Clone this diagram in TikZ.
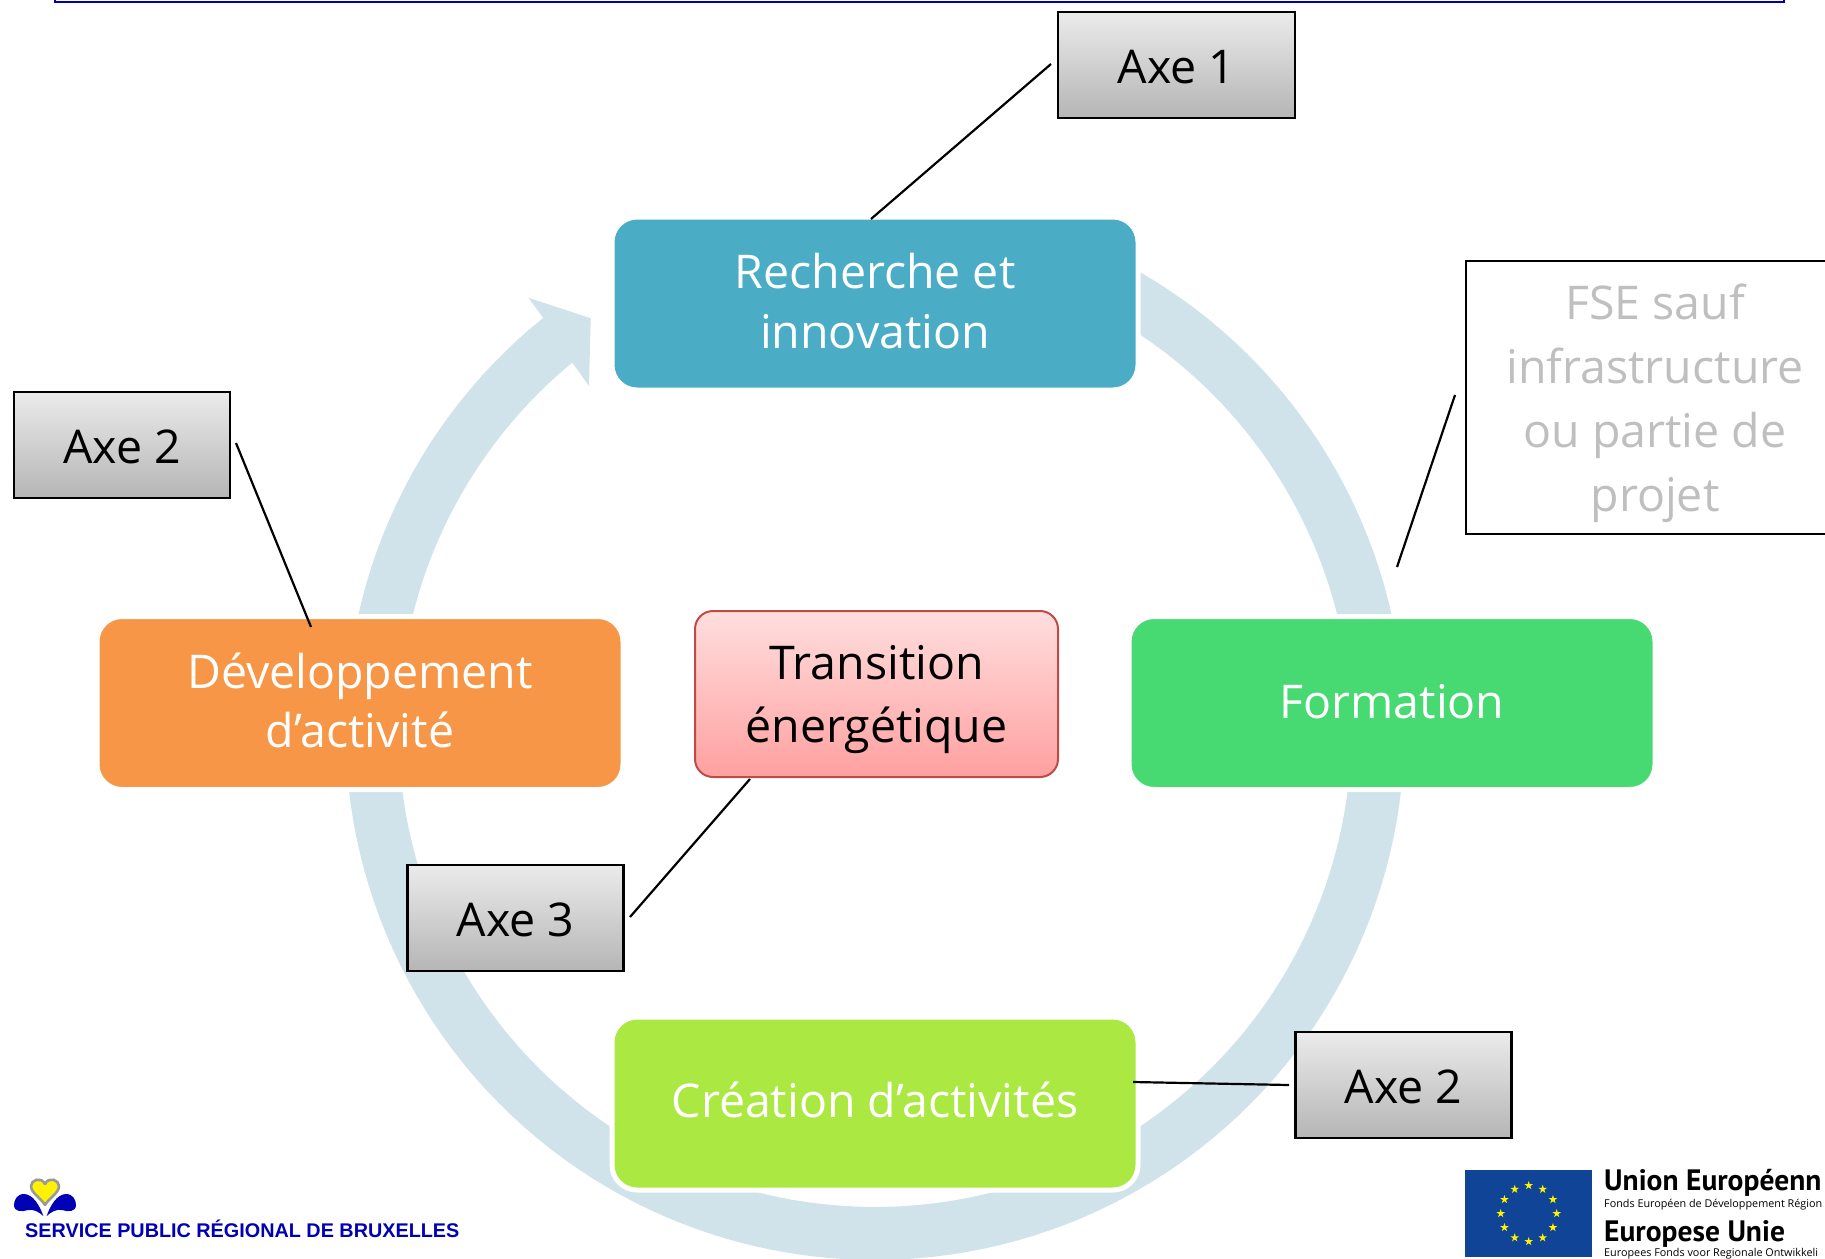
\documentclass[tikz,border=0pt]{standalone}
\usepackage{fontspec}
\setmainfont{Open Sans}
\newfontfamily\logofont{Liberation Sans}
\newfontfamily\eufont{PT Sans}
\newfontfamily\eusmall{Open Sans}
\usetikzlibrary{shapes.geometric,calc}
\definecolor{ringc}{HTML}{D0E2EA}
\definecolor{rechc}{HTML}{4BACC6}
\definecolor{formc}{HTML}{48DA72}
\definecolor{devc}{HTML}{F79646}
\definecolor{creac}{HTML}{ABE942}
\definecolor{greyline}{HTML}{BFBFBF}
\definecolor{logoblue}{HTML}{0000B4}
\definecolor{eublue}{HTML}{0F4496}
\definecolor{redborder}{HTML}{BE4B48}
\definecolor{axetop}{HTML}{EBEBEB}
\definecolor{axebot}{HTML}{B5B5B5}
\definecolor{redtop}{HTML}{FFDEDE}
\definecolor{redbot}{HTML}{FFA0A0}
\newcommand{\lifted}[2]{\raisebox{#1}[\height][\depth]{\begin{tabular}{@{}c@{}}#2\end{tabular}}}
\tikzset{
  x=1pt,y=-1pt,
  cyclebox/.style={draw=white,line width=5pt,rounded corners=25pt,text=white,align=center,
    minimum width=526pt,minimum height=173pt,inner sep=0pt,font=\fontsize{46.5}{59.5}\selectfont},
  axebox/.style={draw=black,line width=2.2pt,top color=axetop,bottom color=axebot,
    text=black,inner sep=0pt,font=\fontsize{46.5}{59}\selectfont},
  link/.style={draw=black,line width=2.2pt},
  eutext/.style={anchor=base west,inner sep=0pt,text=black},
}
\begin{document}
\begin{tikzpicture}
\useasboundingbox (0,0) rectangle (1825,1258);
% top frame
\draw[blue!70!black,line width=2pt] (55,-20) -- (55,2) -- (1784,2) -- (1784,-20);
% ring with arrow head
\fill[ringc]
  plot[domain=62:-231.2,samples=160] ({875+529.5*cos(\x)},{730.5-529.5*sin(\x)})
  -- (528.3,297.7) -- (590.7,318.3) -- (589,386) -- (573.3,364)
  -- plot[domain=-230.5:62,samples=160] ({875+476.5*cos(\x)},{730.5-476.5*sin(\x)})
  -- cycle;
% cycle nodes
\node[cyclebox,fill=rechc] (rech) at (875,303.5) {\lifted{-3pt}{Recherche et\\innovation}};
\node[cyclebox,fill=formc] (form) at (1392,703) {\lifted{-3.7pt}{Formation}};
\node[cyclebox,fill=devc] (dev) at (360,703) {\lifted{-3.3pt}{Développement\\d’activité}};
\node[cyclebox,fill=creac] (crea) at (875,1103.5) {\lifted{-2.3pt}{Création d’activités}};
\node[draw=redborder,line width=2pt,rounded corners=18pt,top color=redtop,bottom color=redbot,
  text=black,align=center,minimum width=363pt,minimum height=166pt,inner sep=0pt,
  font=\fontsize{46.5}{63}\selectfont] (trans) at (876.5,694) {\lifted{-4.8pt}{Transition\\énergétique}};
% axis boxes
\node[axebox,minimum width=237pt,minimum height=106pt] (axeA) at (1176.5,65) {\lifted{-6.7pt}{Axe 1}};
\node[axebox,minimum width=216pt,minimum height=106pt] (axeL) at (122,445) {\lifted{-6.7pt}{Axe 2}};
\node[axebox,minimum width=216pt,minimum height=106pt] (axeC) at (515.5,918) {\lifted{-6.7pt}{Axe 3}};
\node[axebox,minimum width=216pt,minimum height=106pt] (axeB) at (1403.5,1085) {\lifted{-6.7pt}{Axe 2}};
\node[draw=black,line width=2.2pt,text=greyline,align=center,inner sep=0pt,
  minimum width=378pt,minimum height=273pt,font=\fontsize{46.5}{64}\selectfont]
  (fse) at (1655,397.5) {\lifted{-5pt}{FSE sauf\\infrastructure\\ou partie de\\projet}};
% connector ends
\coordinate (axeAStart) at (1051,64);
\coordinate (rechEnd) at (871,219);
\coordinate (axeLStart) at (236,443);
\coordinate (devEnd) at (311,627);
\coordinate (fseStart) at (1455,395);
\coordinate (fseEnd) at (1397,567);
\coordinate (axeCStart) at (630,917);
\coordinate (transEnd) at (750,779);
\coordinate (creaEnd) at (1133,1082);
\coordinate (axeBStart) at (1289,1085);
\draw[link] (axeAStart) -- (rechEnd);
\draw[link] (axeLStart) -- (devEnd);
\draw[link] (fseStart) -- (fseEnd);
\draw[link] (axeCStart) -- (transEnd);
\draw[link] (creaEnd) -- (axeBStart);
% Brussels logo
\fill[logoblue] (43.3,1216) .. controls (40,1206) and (33,1194) .. (24,1194) .. controls (17,1194) and (14,1200) .. (14,1205)
  .. controls (14,1212) and (22,1212) .. (28,1210) .. controls (34,1209) and (39,1212) .. (43.3,1216) -- cycle;
\fill[logoblue] (46.7,1216) .. controls (50,1206) and (57,1194) .. (66,1194) .. controls (73,1194) and (76,1200) .. (76,1205)
  .. controls (76,1212) and (68,1212) .. (62,1210) .. controls (56,1209) and (51,1212) .. (46.7,1216) -- cycle;
\draw[fill=yellow,draw=gray!80,line width=2.6pt,line join=round]
  (45,1205) .. controls (41,1198) and (31,1193) .. (31,1186) .. controls (31,1180) and (41,1176) .. (45,1184)
  .. controls (49,1176) and (59,1180) .. (59,1186) .. controls (59,1193) and (49,1198) .. (45,1205) -- cycle;
\node[anchor=base west,inner sep=0pt,text=logoblue,font=\logofont\bfseries\fontsize{19.8}{24}\selectfont]
  (spr) at (25,1237.5) {SERVICE PUBLIC RÉGIONAL DE BRUXELLES};
% EU logo
\fill[eublue] (1465.3,1170) rectangle (1592,1257);
\foreach \i in {0,...,11}
  \node[star,star points=5,star point ratio=2.618,fill=yellow,inner sep=0pt,minimum size=9pt]
    (st\i) at ({1528.7+28*cos(30*\i)},{1213.5+28*sin(30*\i)}) {};
\node[eutext,font=\eufont\bfseries\fontsize{29.5}{30}\selectfont] (ue) at (1604,1190) {Union Européenn};
\node[eutext,font=\eusmall\fontsize{10.8}{13}\selectfont] (uef) at (1604,1207) {Fonds Européen de Développement Région};
\node[eutext,font=\eufont\bfseries\fontsize{29.5}{30}\selectfont] (eu) at (1604,1241) {Europese Unie};
\node[eutext,font=\eusmall\fontsize{10.8}{13}\selectfont] (euf) at (1604,1256) {Europees Fonds voor Regionale Ontwikkeli};
\end{tikzpicture}
\end{document}
